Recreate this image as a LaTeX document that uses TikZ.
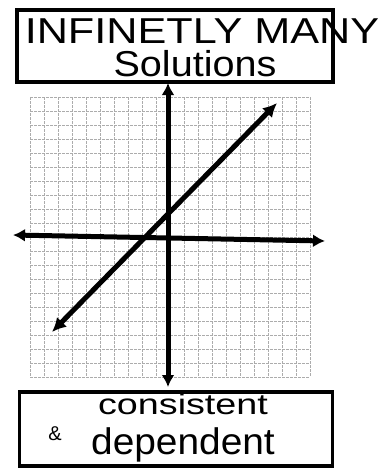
\documentclass[tikz,border=0pt]{standalone}
\usepackage{fontspec}
\setsansfont{Liberation Sans}
\usetikzlibrary{positioning,arrows.meta}

\begin{document}
\begin{tikzpicture}[x=1pt, y=-1pt,
    labelbox/.style={rectangle, draw=black, line width=3.5pt, inner sep=0pt},
    word/.style={font=\sffamily\fontsize{36}{36}\selectfont, inner sep=0pt},
    gridline/.style={gray!65, line width=1pt, dash pattern=on 3pt off 1pt},
    axis/.style={{Latex[length=12pt,width=13pt]}-{Latex[length=12pt,width=13pt]}, line width=5pt},
    graphline/.style={{Latex[length=14pt,width=14pt]}-{Latex[length=14pt,width=14pt]}, line width=5pt}
]
    \useasboundingbox (0,0) rectangle (388,469);
    % boxes
    \node[labelbox, minimum width=316pt, minimum height=72pt] (top) at (175,46) {};
    \node[labelbox, minimum width=313pt, minimum height=74pt] (bottom) at (176,429) {};
    % texts
    \node[word, xscale=1.2] (many) at (202,31) {INFINETLY MANY};
    \node[word, xscale=1.1] (sol) at (195,64) {Solutions};
    \node[word, xscale=1.3, font=\sffamily\fontsize{29}{29}\selectfont] (cons) at (183,404) {consistent};
    \node[word, xscale=1.05, font=\sffamily\fontsize{37}{37}\selectfont] (dep) at (183,445) {dependent};
    \node[word, font=\sffamily\fontsize{20}{20}\selectfont] (amp) at (55,434) {\&};
    % grid
    \foreach \i in {0,...,20} {
        \draw[gridline] (30+14*\i,97) -- (30+14*\i,377);
        \draw[gridline] (30,97+14*\i) -- (310,97+14*\i);
    }
    % axes
    \coordinate (yt) at (168,83);
    \coordinate (yb) at (168,387);
    \coordinate (xl) at (13,235);
    \coordinate (xr) at (325,241);
    \draw[axis] (xl) -- (xr);
    \draw[axis] (yb) -- (yt);
    % the line
    \coordinate (la) at (52,332);
    \coordinate (lb) at (277,103);
    \draw[graphline] (la) -- (lb);
\end{tikzpicture}
\end{document}
